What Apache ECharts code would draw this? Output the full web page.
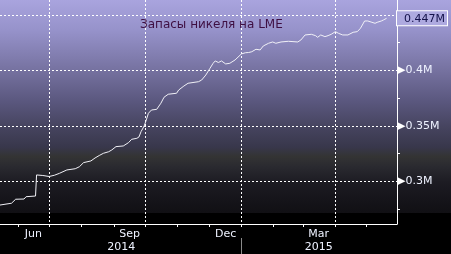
<!DOCTYPE html>
<html><head><meta charset="utf-8">
<script src="https://cdn.jsdelivr.net/npm/echarts@6/dist/echarts.min.js"></script>
<style>html,body{margin:0;padding:0;background:#000}#c{width:451px;height:254px}</style>
</head><body><div id="c"></div>
<script>
// LME nickel stocks, thousand tonnes
const dates = ['2014-05-15','2014-05-26','2014-05-30','2014-06-07','2014-06-09','2014-06-18','2014-06-19','2014-06-25','2014-07-01','2014-07-06','2014-07-11','2014-07-18','2014-07-26','2014-07-30','2014-08-03','2014-08-10','2014-08-14','2014-08-18','2014-08-22','2014-08-27','2014-08-30','2014-09-03','2014-09-10','2014-09-15','2014-09-18','2014-09-23','2014-09-25','2014-09-27','2014-09-30','2014-10-02','2014-10-04','2014-10-07','2014-10-12','2014-10-16','2014-10-19','2014-10-23','2014-10-31','2014-11-02','2014-11-07','2014-11-11','2014-11-21','2014-11-24','2014-11-28','2014-12-02','2014-12-05','2014-12-07','2014-12-10','2014-12-13','2014-12-17','2014-12-21','2014-12-26','2015-01-01','2015-01-05','2015-01-08','2015-01-11','2015-01-15','2015-01-19','2015-01-22','2015-01-27','2015-01-31','2015-02-03','2015-02-08','2015-02-15','2015-02-24','2015-02-27','2015-03-03','2015-03-09','2015-03-13','2015-03-15','2015-03-18','2015-03-22','2015-03-25','2015-03-28','2015-04-01','2015-04-04','2015-04-08','2015-04-13','2015-04-18','2015-04-22','2015-04-25','2015-04-29','2015-05-02','2015-05-06','2015-05-09','2015-05-11','2015-05-15','2015-05-17','2015-05-20'];
const stocks = [278.8,280.4,284.0,284.2,286.3,286.9,305.9,305.4,304.5,305.6,307.4,310.4,311.5,313.3,317.0,318.5,321.2,323.4,325.4,326.8,328.4,331.4,332.0,335.0,338.0,338.9,340.1,344.9,350.0,355.4,361.4,364.4,365.0,370.5,375.9,378.6,379.5,382.4,386.0,388.5,389.9,391.4,395.9,402.0,406.5,408.6,407.2,408.6,405.9,406.5,409.5,414.9,416.0,416.2,416.9,419.1,418.5,422.1,424.5,425.7,424.5,425.7,426.3,425.7,427.5,432.0,432.6,431.4,429.9,432.0,430.5,431.4,432.6,435.0,433.5,432.0,432.0,434.4,435.0,438.0,444.6,444.6,443.4,442.5,443.4,444.6,445.5,447.0];

const monthTicks = ['2014-06-01','2014-07-01','2014-08-01','2014-09-01','2014-10-01','2014-11-01','2014-12-01','2015-01-01','2015-02-01','2015-03-01','2015-04-01','2015-05-01'];
const monthLabels = ['Jun','Sep','Dec','Mar'];
const monthLabelDates = ['2014-06-16','2014-09-16','2014-12-17','2015-03-16'];
const yearLabels = ['2014','2015'];
const yearLabelDates = ['2014-09-08','2015-03-16'];
const yearSeparator = ['2015-01-01'];
const quarterGrid = ['2014-07-01','2014-10-01','2015-01-01','2015-04-01'];
const yLabelValues = [300,350,400,447];
const yMinorTicks = [275,325,375,425];
const yGridValues = [300,350,400,450];
const lastValue = 447;
const titleText = 'Запасы никеля на LME';

function ts(s){const p=s.split('-').map(Number);return Date.UTC(p[0],p[1]-1,p[2])/86400000;}
const xMin = ts('2014-05-15'), xMax = ts('2015-05-30');
const yMin = 261.7, yMax = 463.5;
const monthLabelTs = monthLabelDates.map(ts);
const yearLabelTs = yearLabelDates.map(ts);

const chart = echarts.init(document.getElementById('c'));
const FONT = 'DejaVu Sans';
const baseX = {type:'value', min:xMin, max:xMax, position:'bottom', gridIndex:0};
chart.setOption({
  animation:false,
  backgroundColor:{type:'linear',x:0,y:0,x2:0,y2:1,colorStops:[
    {offset:0,color:'#a9a4de'},
    {offset:0.12,color:'#9692ca'},
    {offset:0.28,color:'#75719f'},
    {offset:0.40,color:'#5a577e'},
    {offset:0.50,color:'#46445f'},
    {offset:0.58,color:'#38374b'},
    {offset:0.615,color:'#343434'},
    {offset:0.655,color:'#2a2a30'},
    {offset:0.72,color:'#1c1b22'},
    {offset:0.80,color:'#141318'},
    {offset:0.838,color:'#111014'},
    {offset:0.839,color:'#000000'},
    {offset:1,color:'#000000'}]},
  title:{text:titleText,left:135,top:14,textStyle:{fontFamily:FONT,fontSize:12,fontWeight:'normal',color:'#3e0f42'}},
  grid:{left:0,right:52,top:0,bottom:30},
  xAxis:[
    Object.assign({},baseX,{
      axisLine:{lineStyle:{color:'#ffffff',width:1}},
      axisTick:{show:true,length:3,customValues:monthTicks.map(ts),lineStyle:{color:'#ffffff'}},
      axisLabel:{customValues:monthLabelTs,margin:5,color:'#eef2ff',fontFamily:FONT,fontSize:11,
        formatter:v=>{const i=monthLabelTs.indexOf(v);return i>=0?monthLabels[i]:'';}},
      splitLine:{show:false}
    }),
    Object.assign({},baseX,{
      offset:14,
      axisLine:{show:false},
      axisTick:{show:true,length:16,customValues:yearSeparator.map(ts),lineStyle:{color:'#8a8a8a'}},
      axisLabel:{customValues:yearLabelTs,margin:4,color:'#eef2ff',fontFamily:FONT,fontSize:11,
        formatter:v=>{const i=yearLabelTs.indexOf(v);return i>=0?yearLabels[i]:'';}},
      splitLine:{show:false}
    }),
    Object.assign({},baseX,{
      axisLine:{show:false},
      axisTick:{show:false,customValues:quarterGrid.map(ts)},
      axisLabel:{show:false},
      splitLine:{show:true,lineStyle:{color:'#ffffff',type:[2,2],width:1}}
    })
  ],
  yAxis:[
    {type:'value',position:'right',min:yMin,max:yMax,
      axisLine:{show:true,lineStyle:{color:'#ffffff',width:1}},
      axisTick:{show:true,length:3,customValues:yMinorTicks,lineStyle:{color:'#ffffff'}},
      axisLabel:{customValues:yLabelValues,margin:0,
        formatter:v=>v===lastValue?'{b|'+(v/1000)+'M}':'{t|▶}{v|'+(v/1000)+'M}',
        rich:{
          t:{fontSize:11,color:'#ffffff',fontFamily:FONT,padding:[0,0,0,0]},
          v:{fontSize:11,color:'#eef2ff',fontFamily:FONT},
          b:{fontSize:11,color:'#14124a',fontFamily:FONT,backgroundColor:'#aeaae0',borderColor:'#ffffff',borderWidth:1,padding:[2,2,1,7]}
        }},
      splitLine:{show:false}},
    {type:'value',position:'right',min:yMin,max:yMax,
      axisLine:{show:false},
      axisTick:{show:false,customValues:yGridValues},
      axisLabel:{show:false},
      splitLine:{show:true,lineStyle:{color:'#ffffff',type:[2,2],width:1}}}
  ],
  series:[{
    type:'line',xAxisIndex:0,yAxisIndex:0,
    data:dates.map((d,i)=>[ts(d),stocks[i]]),
    showSymbol:false,symbol:'none',
    lineStyle:{color:'#f0f0f6',width:1}
  }]
});
</script></body></html>
